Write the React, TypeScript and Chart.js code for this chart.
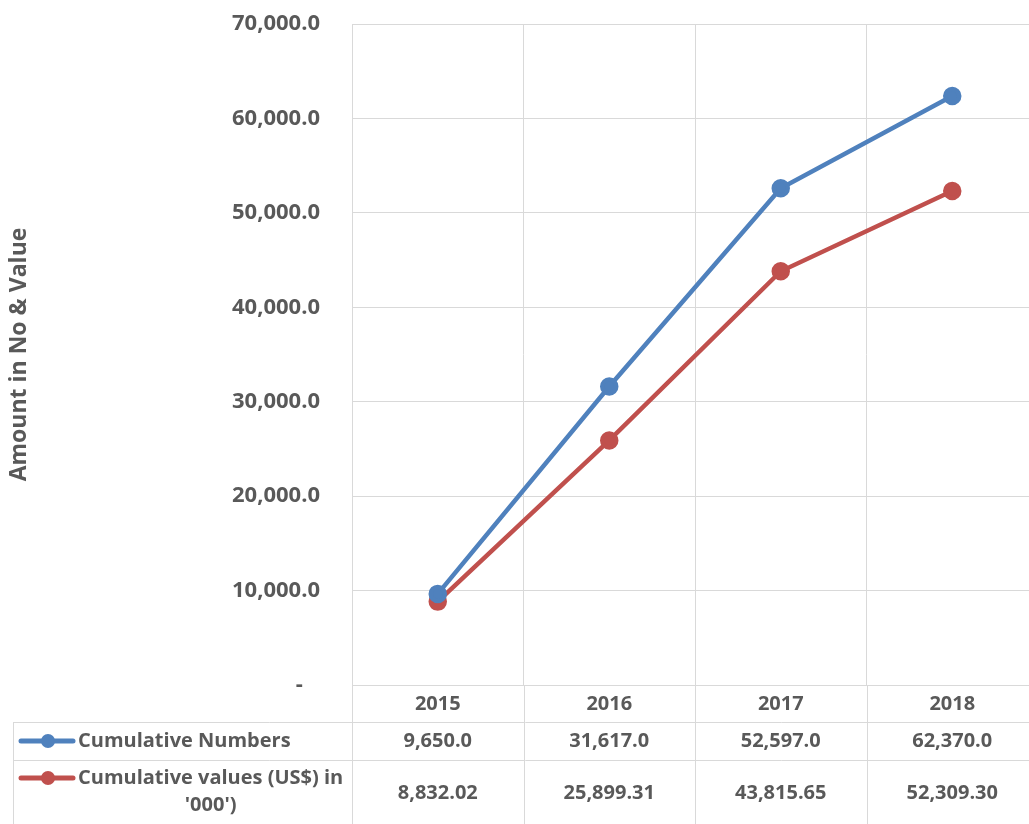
import React, { useEffect, useRef } from "react";
import { Chart, registerables } from "chart.js";

Chart.register(...registerables);

const categories = ["2015", "2016", "2017", "2018"];
const seriesNames = ["Cumulative Numbers", "Cumulative values (US$) in '000')"];
const cumulativeNumbers = [9650.0, 31617.0, 52597.0, 62370.0];
const cumulativeValues = [8832.02, 25899.31, 43815.65, 52309.3];
const yTicks = [0, 10000, 20000, 30000, 40000, 50000, 60000, 70000];
const yTitle = "Amount in No & Value";

const BLUE = "#4F81BD";
const RED = "#C0504D";
const TEXT = "#595959";
const GRID = "#D9D9D9";
const FONT = "'Open Sans', 'Liberation Sans', sans-serif";

const fmt = (v: number, d: number) =>
  v.toLocaleString("en-US", { minimumFractionDigits: d, maximumFractionDigits: d });

const tablePlugin = {
  id: "dataTable",
  afterDraw(chart: any) {
    const ctx = chart.ctx;
    const area = chart.chartArea;
    const x = chart.scales.x;
    const top = area.bottom;
    const r1 = top + 37;
    const r2 = top + 75;
    const bottom = chart.height;
    const left = 13;
    const colW = (area.right - area.left) / categories.length;
    ctx.save();
    ctx.strokeStyle = GRID;
    ctx.lineWidth = 1;
    ctx.beginPath();
    ctx.moveTo(left, r1 + 0.5);
    ctx.lineTo(area.right, r1 + 0.5);
    ctx.moveTo(left, r2 + 0.5);
    ctx.lineTo(area.right, r2 + 0.5);
    ctx.moveTo(left + 0.5, r1);
    ctx.lineTo(left + 0.5, bottom);
    for (let i = 0; i <= categories.length; i++) {
      const xx = Math.round(area.left + i * colW) + 0.5;
      ctx.moveTo(xx, top);
      ctx.lineTo(xx, bottom);
    }
    ctx.stroke();

    ctx.fillStyle = TEXT;
    ctx.textAlign = "center";
    ctx.textBaseline = "middle";
    ctx.font = `bold 20px ${FONT}`;
    categories.forEach((c, i) => {
      const cx = x.getPixelForValue(i);
      ctx.fillText(c, cx, top + 19);
      ctx.fillText(fmt(cumulativeNumbers[i], 1), cx, r1 + 19);
      ctx.fillText(fmt(cumulativeValues[i], 2), cx, r2 + 33);
    });

    const drawKey = (y: number, color: string) => {
      ctx.strokeStyle = color;
      ctx.lineWidth = 5;
      ctx.lineCap = "round";
      ctx.beginPath();
      ctx.moveTo(21, y);
      ctx.lineTo(73, y);
      ctx.stroke();
      ctx.fillStyle = color;
      ctx.beginPath();
      ctx.arc(48, y, 7, 0, Math.PI * 2);
      ctx.fill();
    };
    drawKey(r1 + 19, BLUE);
    drawKey(r2 + 18, RED);

    ctx.fillStyle = TEXT;
    ctx.textAlign = "left";
    ctx.fillText(seriesNames[0], 78, r1 + 19);
    const line1 = "Cumulative values (US$) in";
    const line2 = "'000')";
    ctx.fillText(line1, 78, r2 + 18);
    const w1 = ctx.measureText(line1).width;
    ctx.textAlign = "center";
    ctx.fillText(line2, 78 + w1 / 2, r2 + 45);

    ctx.save();
    ctx.translate(19, (area.top + area.bottom) / 2);
    ctx.rotate(-Math.PI / 2);
    ctx.font = `bold 23px ${FONT}`;
    ctx.textAlign = "center";
    ctx.textBaseline = "middle";
    ctx.fillText(yTitle, 0, 0);
    ctx.restore();

    ctx.restore();
  },
};

export default function App() {
  const ref = useRef<HTMLCanvasElement | null>(null);
  useEffect(() => {
    document.body.style.margin = "0";
    if (!ref.current) return;
    const chart = new Chart(ref.current, {
      type: "line",
      data: {
        labels: categories,
        datasets: [
          {
            label: seriesNames[0],
            data: cumulativeNumbers,
            borderColor: BLUE,
            backgroundColor: BLUE,
            borderWidth: 4.5,
            pointRadius: 7,
            pointBackgroundColor: BLUE,
            pointBorderColor: BLUE,
            tension: 0,
          },
          {
            label: seriesNames[1],
            data: cumulativeValues,
            borderColor: RED,
            backgroundColor: RED,
            borderWidth: 4.5,
            pointRadius: 7,
            pointBackgroundColor: RED,
            pointBorderColor: RED,
            tension: 0,
          },
        ],
      },
      options: {
        animation: false,
        responsive: false,
        maintainAspectRatio: false,
        layout: { autoPadding: false, padding: { left: 0, top: 24, right: 7, bottom: 139 } },
        plugins: { legend: { display: false }, tooltip: { enabled: false } },
        scales: {
          x: {
            type: "category",
            offset: true,
            grid: { offset: true, color: GRID, lineWidth: 1, drawTicks: false },
            border: { display: false },
            ticks: { display: false },
            afterFit: (s: any) => {
              s.height = 0;
              s.paddingLeft = 0;
              s.paddingRight = 0;
            },
          },
          y: {
            min: 0,
            max: 70000,
            afterBuildTicks: (s: any) => {
              s.ticks = yTicks.map((v) => ({ value: v }));
            },
            grid: { color: GRID, lineWidth: 1, drawTicks: false },
            border: { display: true, color: GRID, width: 1 },
            ticks: {
              padding: 32,
              color: TEXT,
              font: { family: FONT, size: 22, weight: "bold" },
              callback: (v: any) => (Number(v) === 0 ? "-   " : fmt(Number(v), 1)),
            },
            afterFit: (s: any) => {
              s.width = 352;
              s.paddingTop = 0;
              s.paddingBottom = 0;
            },
          },
        },
      },
      plugins: [tablePlugin],
    });
    return () => chart.destroy();
  }, []);
  return (
    <div style={{ width: 1029, height: 824, overflow: "hidden", position: "relative" }}>
      <canvas ref={ref} width={1045} height={824} style={{ display: "block" }} />
    </div>
  );
}
